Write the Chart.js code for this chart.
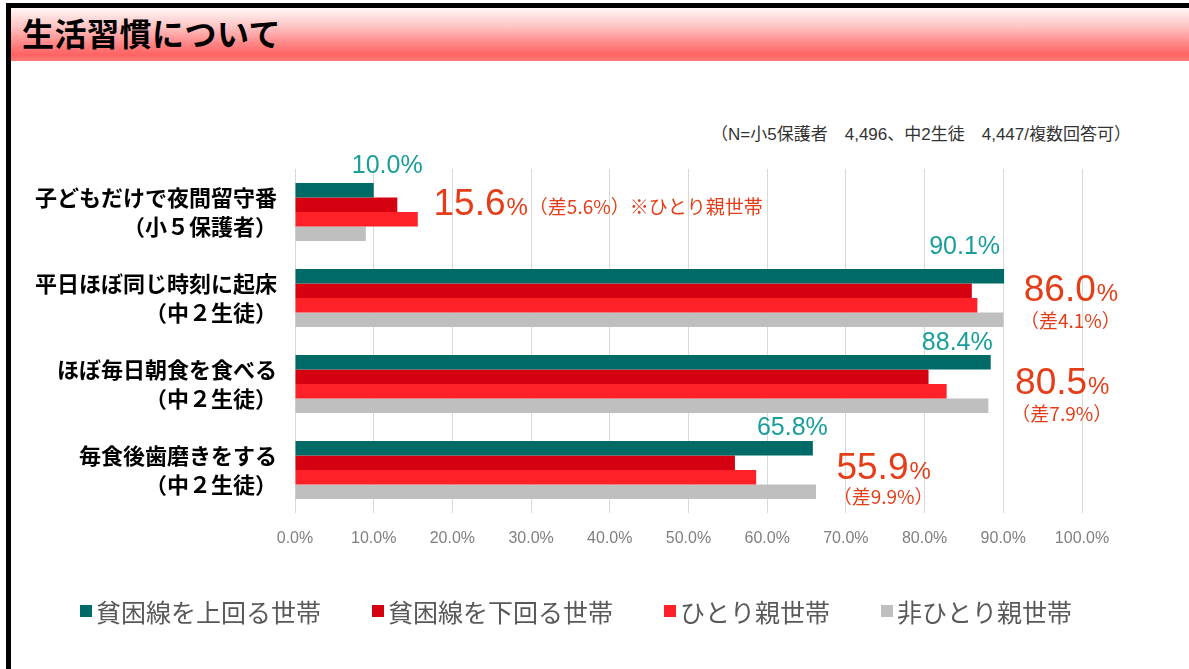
<!DOCTYPE html>
<html lang="ja">
<head>
<meta charset="utf-8">
<script src="https://cdn.jsdelivr.net/npm/chart.js@4.4.1/dist/chart.umd.min.js"></script>
<style>
  html, body { margin:0; padding:0; background:#fff; }
  body { width:1189px; height:669px; position:relative; overflow:hidden; }
  #frameTop { position:absolute; left:6px; top:3px; width:1183px; height:5px; background:#000; }
  #frameLeft { position:absolute; left:6px; top:3px; width:5px; height:666px; background:#000; }
  #band { position:absolute; left:11px; top:8px; width:1178px; height:53px;
          background:linear-gradient(to bottom, #fff6f6 0%, #ffc4c4 35%, #ff8a8a 65%, #ff6262 88%, #ff7a7a 100%); }
  #title { position:absolute; left:22px; top:11px; font-family:"Noto Sans CJK JP", sans-serif; font-weight:700;
           font-size:32px; line-height:42px; color:#000; letter-spacing:0.5px; }
  #note { position:absolute; right:58px; top:120px; font-family:"Liberation Sans","Noto Sans CJK JP", sans-serif;
          font-size:17px; color:#333; white-space:pre; }
  #c { position:absolute; left:0; top:0; }
</style>
</head>
<body>
<div id="band"></div>
<div id="frameTop"></div>
<div id="frameLeft"></div>
<div id="title">生活習慣について</div>
<div id="note">（N=小5保護者　4,496、中2生徒　4,447/複数回答可）</div>
<canvas id="c" width="1189" height="669"></canvas>
<script>
// ---- data ----
const categories = [
  ["子どもだけで夜間留守番", "（小５保護者）"],
  ["平日ほぼ同じ時刻に起床", "（中２生徒）"],
  ["ほぼ毎日朝食を食べる", "（中２生徒）"],
  ["毎食後歯磨きをする", "（中２生徒）"]
];
const seriesNames = ["貧困線を上回る世帯", "貧困線を下回る世帯", "ひとり親世帯", "非ひとり親世帯"];
const aboveLine   = [10.0, 90.1, 88.4, 65.8];
const belowLine   = [13.0, 86.0, 80.5, 55.9];
const singleParent = [15.6, 86.7, 82.8, 58.6];
const nonSingle   = [9.0, 90.0, 88.1, 66.2];
const xTicks = [0, 10, 20, 30, 40, 50, 60, 70, 80, 90, 100];
// which series the big red callout refers to, per category
const calloutSeries = [2, 1, 1, 1];
const calloutSuffix = ["※ひとり親世帯", "", "", ""];

// ---- styles / layout ----
const colors = ["#006A66", "#D50010", "#FF2128", "#BFBFBF"];
const tealText = "#199E9A";
const redText = "#E53D18";
// teal label: right edge offset (px) from bar end, center offset (px) from bar top
const tealLayout = [{dx: 49, dy: -17}, {dx: -4, dy: -22}, {dx: 2, dy: -12}, {dx: 15, dy: -13}];
// callout: x in axis units, dy from category centre; sub-line dy from category centre (null = inline)
const calloutLayout = [
  {x: 17.6, dy: -10, subDy: null},
  {x: 92.6, dy: -10, subDy: 23},
  {x: 91.5, dy: -3,  subDy: 30},
  {x: 68.8, dy: -4,  subDy: 27}
];

const seriesData = [aboveLine, belowLine, singleParent, nonSingle];
const NUM_FONT = '"Liberation Sans", Arial, sans-serif';
const JP_FONT = '"Noto Sans CJK JP", sans-serif';

const annotationPlugin = {
  id: 'annot',
  afterDatasetsDraw(chart) {
    const ctx = chart.ctx;
    const xs = chart.scales.x, ys = chart.scales.y;
    ctx.save();
    // teal labels
    const meta0 = chart.getDatasetMeta(0);
    aboveLine.forEach((v, i) => {
      const bar = meta0.data[i];
      const top = bar.y - bar.height / 2;
      const lay = tealLayout[i];
      ctx.font = '25px ' + NUM_FONT;
      ctx.fillStyle = tealText;
      ctx.textAlign = 'right';
      ctx.textBaseline = 'middle';
      ctx.fillText(v.toFixed(1) + '%', xs.getPixelForValue(v) + lay.dx, top + lay.dy);
    });
    // red callouts
    calloutSeries.forEach((s, i) => {
      const v = seriesData[s][i];
      const diff = Math.abs(aboveLine[i] - v);
      const lay = calloutLayout[i];
      const cy = ys.getPixelForValue(i);
      const x = xs.getPixelForValue(lay.x);
      const y = cy + lay.dy;
      ctx.fillStyle = redText;
      ctx.textAlign = 'left';
      ctx.textBaseline = 'alphabetic';
      const base = y + 13;
      ctx.font = '37px ' + NUM_FONT;
      const numTxt = v.toFixed(1);
      ctx.fillText(numTxt, x, base);
      const wNum = ctx.measureText(numTxt).width;
      ctx.font = '24px ' + NUM_FONT;
      ctx.fillText('%', x + wNum + 1, base);
      const wPct = ctx.measureText('%').width;
      const sub = '（差' + diff.toFixed(1) + '%）' + calloutSuffix[i];
      ctx.font = '19px ' + JP_FONT;
      if (lay.subDy === null) {
        ctx.fillText(sub, x + wNum + wPct + 2, base - 1);
      } else {
        ctx.textAlign = 'center';
        ctx.textBaseline = 'middle';
        ctx.fillText(sub, x + (wNum + wPct) / 2, cy + lay.subDy);
      }
    });
    ctx.restore();
  },
  afterDraw(chart) {
    // legend
    const ctx = chart.ctx;
    ctx.save();
    ctx.font = '25px ' + JP_FONT;
    ctx.textBaseline = 'middle';
    ctx.textAlign = 'left';
    const y = 611;
    let x = 80;
    const widths = seriesNames.map(n => ctx.measureText(n).width);
    const total = widths.reduce((a, b) => a + b, 0) + seriesNames.length * 16;
    const gap = (1072 - 80 - total) / (seriesNames.length - 1);
    seriesNames.forEach((n, k) => {
      ctx.fillStyle = colors[k];
      ctx.fillRect(x, y - 6, 12, 12);
      ctx.fillStyle = '#595959';
      ctx.fillText(n, x + 16, y + 1);
      x += 16 + widths[k] + gap;
    });
    ctx.restore();
  }
};

new Chart(document.getElementById('c'), {
  type: 'bar',
  data: {
    labels: categories,
    datasets: seriesNames.map((n, k) => ({
      label: n,
      data: seriesData[k],
      backgroundColor: colors[k],
      borderWidth: 0,
      categoryPercentage: 0.676,
      barPercentage: 1.0
    }))
  },
  options: {
    indexAxis: 'y',
    responsive: false,
    animation: false,
    devicePixelRatio: 1,
    layout: { padding: { top: 169, right: 107, left: 0, bottom: 0 } },
    plugins: { legend: { display: false }, tooltip: { enabled: false } },
    scales: {
      x: {
        min: 0, max: 100,
        afterBuildTicks(scale) { scale.ticks = xTicks.map(v => ({ value: v })); },
        afterFit(scale) { scale.height = 156; },
        grid: { color: '#D9D9D9', lineWidth: 1, drawTicks: false },
        border: { display: false },
        ticks: {
          padding: 16,
          color: '#7F7F7F',
          font: { family: '"Liberation Sans", Arial, sans-serif', size: 16 },
          callback: v => Number(v).toFixed(1) + '%'
        }
      },
      y: {
        afterFit(scale) { scale.width = 295; },
        grid: { display: false },
        border: { display: false },
        ticks: {
          padding: 10,
          color: '#000',
          font: { family: JP_FONT, size: 22, weight: 'bold', lineHeight: 1.32 }
        }
      }
    }
  },
  plugins: [annotationPlugin]
});
</script>
</body>
</html>
